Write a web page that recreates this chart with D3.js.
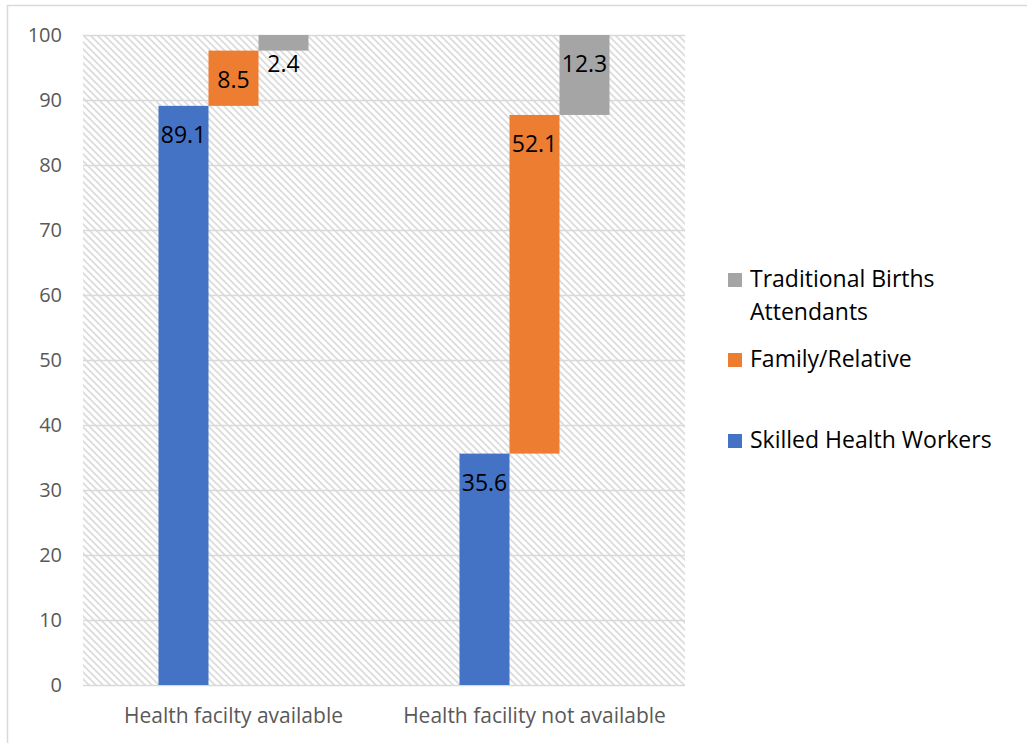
<!DOCTYPE html>
<html>
<head>
<script src="https://d3js.org/d3.v7.min.js"></script>
<style>
  body { margin: 0; background: #fff; }
  svg text { font-family: "Open Sans", "Noto Sans", sans-serif; }
  .grid line { stroke: #d9d9d9; stroke-width: 1.5; }
  .grid path { display: none; }
</style>
</head>
<body>
<div id="chart"></div>
<script>
  const categories = ['Health facilty available', 'Health facility not available'];
  const seriesNames = ['Skilled Health Workers', 'Family/Relative', 'Traditional Births Attendants'];
  const skilled = [89.1, 35.6];
  const family = [8.5, 52.1];
  const traditional = [2.4, 12.3];
  const yTicks = [0, 10, 20, 30, 40, 50, 60, 70, 80, 90, 100];
  const colors = ['#4472c4', '#ed7d31', '#a5a5a5'];

  const width = 1027, height = 743;
  const margin = { top: 35, left: 83, right: 342, bottom: 58 };
  const plotW = width - margin.left - margin.right;
  const plotH = height - margin.top - margin.bottom;

  const svg = d3.select('#chart').append('svg')
    .attr('width', width).attr('height', height);

  // outer chart border
  svg.append('rect')
    .attr('x', 7.5).attr('y', 5.5)
    .attr('width', width + 10).attr('height', height + 10)
    .attr('fill', 'none').attr('stroke', '#d9d9d9').attr('stroke-width', 1.5);

  const defs = svg.append('defs');
  const pat = defs.append('pattern')
    .attr('id', 'hatch').attr('patternUnits', 'userSpaceOnUse')
    .attr('width', 7).attr('height', 7);
  pat.append('rect').attr('width', 7).attr('height', 7).attr('fill', '#fff');
  pat.append('path')
    .attr('d', 'M-1,-1 L8,8 M-1,6 L1,8 M6,-1 L8,1')
    .attr('stroke', '#dcdcdc').attr('stroke-width', 1.8);

  const g = svg.append('g').attr('transform', `translate(${margin.left},${margin.top})`);

  const x = d3.scaleBand().domain(categories).range([0, plotW]);
  const y = d3.scaleLinear().domain([0, 100]).range([plotH, 0]);

  g.append('rect').attr('width', plotW).attr('height', plotH).attr('fill', 'url(#hatch)');

  g.append('g').attr('class', 'grid')
    .call(d3.axisLeft(y).tickValues(yTicks).tickSize(-plotW).tickFormat(''));

  // y axis labels
  g.append('g').selectAll('text').data(yTicks).join('text')
    .attr('x', -21).attr('y', d => y(d)).attr('dy', '0.35em')
    .attr('text-anchor', 'end').attr('fill', '#595959').attr('font-size', 20)
    .text(d => d);

  // x axis labels
  g.append('g').selectAll('text').data(categories).join('text')
    .attr('x', d => x(d) + x.bandwidth() / 2).attr('y', plotH + 38)
    .attr('text-anchor', 'middle').attr('fill', '#595959').attr('font-size', 21)
    .text(d => d);

  // floating stacked bars, each series offset sideways
  const barW = 50;
  const series = [skilled, family, traditional];
  const segs = [];
  categories.forEach((c, i) => {
    let base = 0;
    series.forEach((vals, s) => {
      segs.push({ cat: c, s, y0: base, y1: base + vals[i], v: vals[i] });
      base += vals[i];
    });
  });

  const bx = d => x(d.cat) + x.bandwidth() / 2 + (d.s - 1.5) * barW;

  g.selectAll('.bar').data(segs).join('rect')
    .attr('class', 'bar')
    .attr('x', bx)
    .attr('y', d => y(Math.min(d.y1, 100)))
    .attr('width', barW)
    .attr('height', d => y(d.y0) - y(Math.min(d.y1, 100)))
    .attr('fill', d => colors[d.s]);

  g.selectAll('.lbl').data(segs).join('text')
    .attr('class', 'lbl')
    .attr('x', d => bx(d) + barW / 2)
    .attr('y', d => y(Math.min(d.y1, 100)) + 37)
    .attr('text-anchor', 'middle').attr('fill', '#000').attr('font-size', 23)
    .text(d => d.v.toFixed(1));

  // legend
  const legend = [
    { name: ['Traditional Births', 'Attendants'], color: colors[2], y: 287 },
    { name: ['Family/Relative'], color: colors[1], y: 367 },
    { name: ['Skilled Health Workers'], color: colors[0], y: 448 }
  ];
  const lg = svg.append('g');
  legend.forEach(l => {
    lg.append('rect').attr('x', 728).attr('y', l.y - 14).attr('width', 14).attr('height', 14)
      .attr('fill', l.color);
    l.name.forEach((t, k) => {
      lg.append('text').attr('x', 750).attr('y', l.y + k * 33)
        .attr('font-size', 23).attr('fill', '#000').text(t);
    });
  });
</script>
</body>
</html>
